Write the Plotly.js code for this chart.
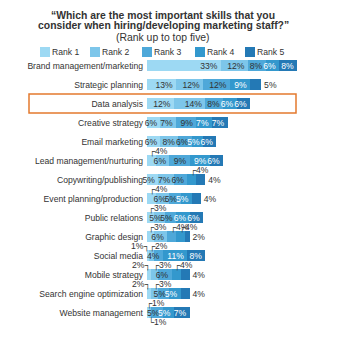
<!DOCTYPE html>
<html>
<head>
<meta charset="utf-8">
<script src="https://cdn.plot.ly/plotly-3.0.1.min.js"></script>
<style>html,body{margin:0;padding:0;background:#fff;}#chart{width:346px;height:344px;}</style>
</head>
<body>
<div id="chart"></div>
<script>
const categories = ["Brand management/marketing","Strategic planning","Data analysis","Creative strategy","Email marketing","Lead management/nurturing","Copywriting/publishing","Event planning/production","Public relations","Graphic design","Social media","Mobile strategy","Search engine optimization","Website management"];
const seriesNames = ["Rank 1","Rank 2","Rank 3","Rank 4","Rank 5"];
const rank1 = [33,13,12,6,6,4,5,4,3,3,1,2,2,1];
const rank2 = [12,12,14,7,8,6,7,6,5,6,2,3,3,1];
const rank3 = [8,12,8,9,6,9,6,5,5,4,4,6,5,5];
const rank4 = [6,9,6,7,5,9,4,5,6,4,11,4,5,5];
const rank5 = [8,5,6,7,6,6,4,4,6,2,8,4,4,7];

// label placement (style): in = inside bar, up = above (leader to right), upL = above (leader to left), down = below, right = outside end
const place1 = ["in","in","in","in","in","up","in","up","up","up","upL","upL","upL","up"];
const place2 = ["in","in","in","in","in","in","in","in","in","in","up","up","up","down"];
const place3 = ["in","in","in","in","in","in","in","in","in","up","in","in","in","in"];
const place4 = ["in","in","in","in","in","in","up","in","in","up","in","up","in","in"];
const place5 = ["in","right","in","in","in","in","right","right","in","right","in","right","right","in"];

const colors = ["#9dd9f3","#7dc6ea","#4ea8d9","#3398cd","#2479b5"];
const textColors = ["#333333","#333333","#333333","#ffffff","#ffffff"];
const FONT = "Liberation Sans, Arial, sans-serif";
const FS = 8.6;

const W = 346, H = 344;
const M = {l:147, r:20, t:56, b:15};
const plotW = W - M.l - M.r, plotH = H - M.t - M.b;
const pxX = px => (px - M.l) / plotW;
const pxY = py => (H - M.b - py) / plotH;

const series = [rank1,rank2,rank3,rank4,rank5];
const places = [place1,place2,place3,place4,place5];

const traces = series.map((vals,i)=>({
  type:"bar", orientation:"h", name:seriesNames[i],
  y:categories, x:vals,
  marker:{color:colors[i], line:{width:0}},
  text: vals.map((v,j)=> (places[i][j]==="in"||places[i][j]==="right") ? v+"%" : ""),
  textposition: vals.map((v,j)=> places[i][j]==="right" ? "outside" : "inside"),
  insidetextanchor:"end",
  textangle:0,
  insidetextfont:{family:FONT,size:FS,color:textColors[i]},
  outsidetextfont:{family:FONT,size:FS,color:"#333333"},
  cliponaxis:false,
  showlegend:false,
  hoverinfo:"none"
}));

const annotations = [];
categories.forEach((c,j)=>{
  let cum = 0;
  series.forEach((vals,i)=>{
    const v = vals[j];
    const mid = cum + v/2;
    const p = places[i][j];
    if(p==="up"){
      annotations.push({x:mid,y:c,xref:"x",yref:"y",text:"┌"+v+"%",showarrow:false,xanchor:"left",yanchor:"middle",xshift:-4,yshift:9,font:{family:FONT,size:FS,color:"#333"}});
    } else if(p==="upL"){
      annotations.push({x:mid,y:c,xref:"x",yref:"y",text:v+"%┐",showarrow:false,xanchor:"right",yanchor:"middle",xshift:4,yshift:9,font:{family:FONT,size:FS,color:"#333"}});
    } else if(p==="down"){
      annotations.push({x:mid,y:c,xref:"x",yref:"y",text:"└"+v+"%",showarrow:false,xanchor:"left",yanchor:"middle",xshift:-4,yshift:-9,font:{family:FONT,size:FS,color:"#333"}});
    }
    cum += v;
  });
});

// title lines
const titleX = pxX(163);
const TFS = 10.4;
annotations.push({xref:"paper",yref:"paper",x:titleX,y:pxY(15),xanchor:"center",yanchor:"middle",showarrow:false,text:"<b>“Which are the most important skills that you</b>",font:{family:FONT,size:TFS,color:"#333"}});
annotations.push({xref:"paper",yref:"paper",x:titleX,y:pxY(26),xanchor:"center",yanchor:"middle",showarrow:false,text:"<b>consider when hiring/developing marketing staff?”</b>",font:{family:FONT,size:TFS,color:"#333"}});
annotations.push({xref:"paper",yref:"paper",x:titleX,y:pxY(37.5),xanchor:"center",yanchor:"middle",showarrow:false,text:"(Rank up to top five)",font:{family:FONT,size:TFS,color:"#333"}});

// legend (drawn as swatches + labels)
const legendSwatchPx = [40, 90, 142, 195, 245];
const shapes = [];
seriesNames.forEach((n,i)=>{
  const x0 = legendSwatchPx[i];
  shapes.push({type:"rect", xref:"paper", yref:"paper", x0:pxX(x0), x1:pxX(x0+10), y0:pxY(57), y1:pxY(47), fillcolor:colors[i], line:{width:0}, layer:"above"});
  annotations.push({xref:"paper", yref:"paper", x:pxX(x0+10), y:pxY(52), xanchor:"left", yanchor:"middle", showarrow:false, text:n, font:{family:FONT,size:FS,color:"#333"}});
});

shapes.push({type:"rect", xref:"paper", yref:"y", x0:pxX(29), x1:pxX(296), y0:1.5, y1:2.5, line:{color:"#e3792e", width:1.5}, fillcolor:"rgba(0,0,0,0)", layer:"above"});

const layout = {
  width:W, height:H,
  margin:M,
  paper_bgcolor:"#fff", plot_bgcolor:"#fff",
  barmode:"stack", bargap:0.4,
  showlegend:false,
  xaxis:{range:[0,80], visible:false, fixedrange:true},
  yaxis:{type:"category", autorange:"reversed", showgrid:false, zeroline:false, showline:false, ticks:"", ticklabelstandoff:3, tickfont:{family:FONT,size:FS,color:"#333"}},
  uniformtext:{mode:"show", minsize:FS},
  shapes:shapes,
  annotations:annotations
};

Plotly.newPlot("chart", traces, layout, {staticPlot:true, displayModeBar:false});
</script>
</body>
</html>
